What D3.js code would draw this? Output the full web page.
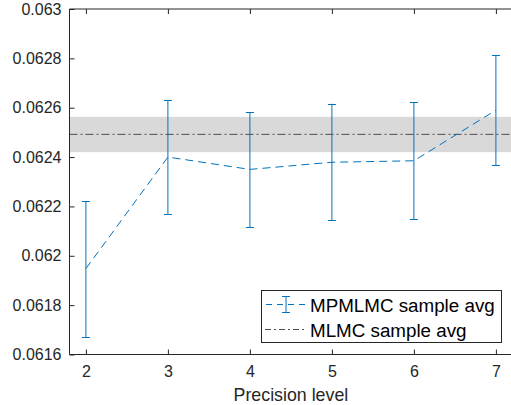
<!DOCTYPE html>
<html><head><meta charset="utf-8">
<script src="https://cdn.jsdelivr.net/npm/d3@7"></script>
<style>body{margin:0;background:#fff}svg{display:block}text{font-family:"Liberation Sans",Arial,sans-serif;fill:#262626}</style>
</head><body><svg id="c" width="511" height="405"></svg>
<script>
const levels = [2, 3, 4, 5, 6, 7];
const mpAvg = [0.061948, 0.062400, 0.062350, 0.062379, 0.062385, 0.062590];
const mpLow = [0.061671, 0.062168, 0.062116, 0.062143, 0.062148, 0.062367];
const mpHigh = [0.062221, 0.062631, 0.062582, 0.062616, 0.062622, 0.062813];
const mlmcAvg = 0.062492;
const mlmcBand = [0.062420, 0.062563];
const yTicks = [0.0616, 0.0618, 0.062, 0.0622, 0.0624, 0.0626, 0.0628, 0.063];
const xTicks = [2, 3, 4, 5, 6, 7];
const legendLabels = ["MPMLMC sample avg", "MLMC sample avg"];

const svg = d3.select("#c");
const L = 69.5, T = 9, B = 354.5;
const x = d3.scaleLinear().domain([1.8, 7.2]).range([L, L + 5.4 * 82]);
const y = d3.scaleLinear().domain([0.0616, 0.063]).range([B, T]);
const blue = "#0072BD";

svg.append("rect").attr("x", x(1.8)).attr("width", x(7.2) - x(1.8))
  .attr("y", y(mlmcBand[1])).attr("height", y(mlmcBand[0]) - y(mlmcBand[1]))
  .attr("fill", "#d9d9d9");
svg.append("line").attr("x1", x(1.8)).attr("x2", x(7.2)).attr("y1", y(mlmcAvg)).attr("y2", y(mlmcAvg))
  .attr("stroke", "#4d4d4d").attr("stroke-width", 1).attr("stroke-dasharray", "8,3,2,3");

const g = svg.append("g");
levels.forEach((lv, i) => {
  const cx = x(lv);
  g.append("line").attr("x1", cx).attr("x2", cx).attr("y1", y(mpLow[i])).attr("y2", y(mpHigh[i]))
    .attr("stroke", blue).attr("stroke-width", 1);
  [mpLow[i], mpHigh[i]].forEach(v => {
    g.append("line").attr("x1", cx - 4).attr("x2", cx + 4).attr("y1", Math.round(y(v)) + 0.5).attr("y2", Math.round(y(v)) + 0.5)
      .attr("stroke", blue).attr("stroke-width", 1);
  });
});
svg.append("path").datum(levels.map((lv, i) => [lv, mpAvg[i]]))
  .attr("d", d3.line().x(d => x(d[0])).y(d => y(d[1])))
  .attr("fill", "none").attr("stroke", blue).attr("stroke-width", 1).attr("stroke-dasharray", "8,5");

const axisColor = "#262626";
const yAx = svg.append("g").attr("transform", `translate(${L},0)`)
  .call(d3.axisLeft(y).tickValues(yTicks).tickFormat(d => String(+d.toFixed(4))).tickSize(-5).tickPadding(8));
const xAx = svg.append("g").attr("transform", `translate(0,${B})`)
  .call(d3.axisBottom(x).tickValues(xTicks).tickFormat(d3.format("d")).tickSize(-5).tickPadding(11));
const xTop = svg.append("g").attr("transform", `translate(0,${T})`)
  .call(d3.axisTop(x).tickValues(xTicks).tickFormat("").tickSize(-5));
[yAx, xAx, xTop].forEach(a => {
  a.selectAll("path").attr("stroke", axisColor).attr("d", null);
  a.selectAll("line").attr("stroke", axisColor);
  a.selectAll("text").attr("fill", axisColor).style("font-size", "16px").style("font-family", "Liberation Sans, Arial, sans-serif");
});
svg.append("line").attr("x1", L).attr("x2", x(7.2)).attr("y1", B).attr("y2", B).attr("stroke", axisColor);
svg.append("line").attr("x1", L).attr("x2", x(7.2)).attr("y1", T).attr("y2", T).attr("stroke", axisColor);
svg.append("line").attr("x1", L).attr("x2", L).attr("y1", T).attr("y2", B).attr("stroke", axisColor);

svg.append("text").attr("x", x(4.5)).attr("y", 401).attr("text-anchor", "middle")
  .style("font-size", "17.8px").text("Precision level");

const lg = svg.append("g");
lg.append("rect").attr("x", 261.5).attr("y", 290.5).attr("width", 240).attr("height", 52)
  .attr("fill", "#fff").attr("stroke", axisColor).attr("stroke-width", 1);
lg.append("line").attr("x1", 265).attr("x2", 306).attr("y1", 304.5).attr("y2", 304.5)
  .attr("stroke", blue).attr("stroke-dasharray", "6,5").attr("stroke-dashoffset", -1);
lg.append("line").attr("x1", 286).attr("x2", 286).attr("y1", 296).attr("y2", 313).attr("stroke", blue);
lg.append("line").attr("x1", 282).attr("x2", 290).attr("y1", 296.5).attr("y2", 296.5).attr("stroke", blue);
lg.append("line").attr("x1", 282).attr("x2", 290).attr("y1", 312.5).attr("y2", 312.5).attr("stroke", blue);
lg.append("line").attr("x1", 265).attr("x2", 306).attr("y1", 329.5).attr("y2", 329.5)
  .attr("stroke", "#4d4d4d").attr("stroke-dasharray", "6,3,2,3");
legendLabels.forEach((t, i) =>
  lg.append("text").attr("x", 310).attr("y", 311.5 + i * 25).style("font-size", "18.8px").style("fill", "#000").text(t));
</script></body></html>
